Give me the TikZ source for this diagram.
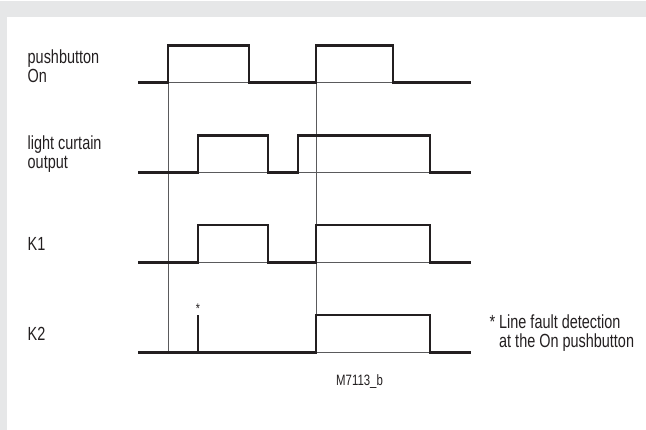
\documentclass[tikz,border=0pt]{standalone}
\usepackage{fontspec}
\setmainfont{Liberation Sans}[FakeStretch=0.76]
\usepackage{xcolor}
\definecolor{signalink}{HTML}{231F20}
\definecolor{signalmuted}{HTML}{5A5A5C}
\definecolor{framegray}{HTML}{E6E7E8}

\begin{document}
\begin{tikzpicture}[x=1pt, y=-1pt,
                    every node/.style={signalink, inner sep=0pt, anchor=base west,
                                       font=\fontsize{19}{18}\selectfont}]

  \useasboundingbox (0,0) rectangle (646,430);

  %% ---- frame: grey band on top and on the left ----
  \fill[framegray] (0,1) rectangle (646,17);
  \fill[framegray] (0,1) rectangle (7,430);

  %% ---- the two moments the pushbutton is pressed ----
  \draw[signalmuted, line width=0.9pt] (168,46) -- (168,352.5);
  \draw[signalmuted, line width=0.9pt] (316,46) -- (316,352.5);

  %% ---- pushbutton On ----
  \begin{scope}[shift={(0,82.5)}]
    \draw[signalmuted, line width=0.9pt] (168,0) -- (249,0) (316,0) -- (393,0);
    \draw[signalink, line width=2.2pt]
      (138,0) -- (168,0) -- (168,-37) -- (249,-37) -- (249,0)
      -- (316,0) -- (316,-37) -- (393,-37) -- (393,0) -- (471,0);
    \node (pushlabel)   at (27.5,-18.5) {pushbutton};
    \node (pushlabelon) at (27.5,0)     {On};
  \end{scope}

  %% ---- light curtain output ----
  \begin{scope}[shift={(0,172.5)}]
    \draw[signalmuted, line width=0.9pt] (198,0) -- (268,0) (298,0) -- (430,0);
    \draw[signalink, line width=2.2pt]
      (138,0) -- (198,0) -- (198,-37) -- (268,-37) -- (268,0)
      -- (298,0) -- (298,-37) -- (430,-37) -- (430,0) -- (471,0);
    \node (curtainlabel)    at (27.5,-22.5) {light curtain};
    \node (curtainlabelout) at (27.5,-4)    {output};
  \end{scope}

  %% ---- K1 ----
  \begin{scope}[shift={(0,262.5)}]
    \draw[signalmuted, line width=0.9pt] (198,0) -- (268,0) (316,0) -- (430,0);
    \draw[signalink, line width=2.2pt]
      (138,0) -- (198,0) -- (198,-37.5) -- (268,-37.5) -- (268,0)
      -- (316,0) -- (316,-37.5) -- (430,-37.5) -- (430,0) -- (471,0);
    \node (konelabel) at (27.5,-11.5) {K1};
  \end{scope}

  %% ---- K2, with the short test pulse ----
  \begin{scope}[shift={(0,352.5)}]
    \draw[signalmuted, line width=0.9pt] (316,0) -- (430,0);
    \draw[signalink, line width=2.2pt]
      (138,0) -- (316,0) -- (316,-37.5) -- (430,-37.5) -- (430,0) -- (471,0);
    \draw[signalink, line width=2.2pt] (198,0) -- (198,-37);
    \node[anchor=center, font=\fontsize{14}{14}\selectfont] (spikemark) at (198,-44) {*};
    \node (ktwolabel) at (27.5,-11.5) {K2};
  \end{scope}

  %% ---- footnote and drawing number ----
  \node (faultnote)   at (499,329) {\llap{*\ }Line fault detection};
  \node (faultnotetw) at (499,348) {at the On pushbutton};
  \node[font=\fontsize{15}{14}\selectfont] (drawno) at (336,386) {M7113\_b};

\end{tikzpicture}
\end{document}
